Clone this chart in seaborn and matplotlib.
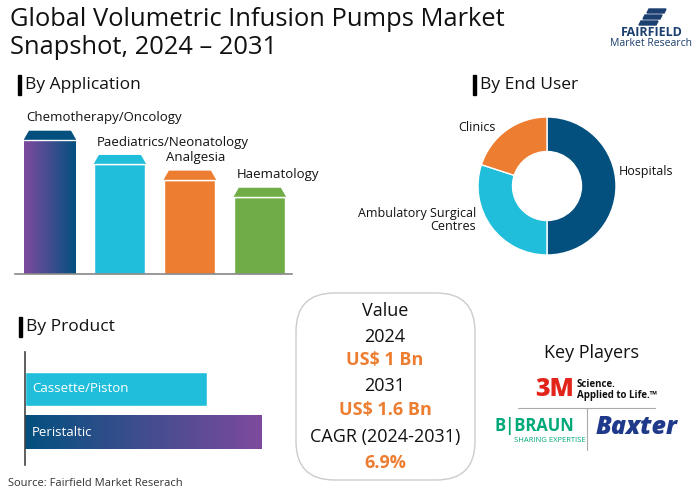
import numpy as np
import pandas as pd
import matplotlib
matplotlib.use('Agg')
import matplotlib.pyplot as plt
from matplotlib.colors import LinearSegmentedColormap
from matplotlib.patches import Polygon, FancyBboxPatch, Rectangle
import seaborn as sns

sns.set_style('white')
plt.rcParams['font.family'] = ['Open Sans', 'DejaVu Sans']

# data
app_labels = ['Chemotherapy/Oncology', 'Paediatrics/Neonatology', 'Analgesia', 'Haematology']
app_values = [100, 83, 72, 60]
user_labels = ['Hospitals', 'Ambulatory Surgical\nCentres', 'Clinics']
user_values = [50, 30, 20]
prod_labels = ['Cassette/Piston', 'Peristaltic']
prod_values = [77, 100]
value_lines = ['Value', '2024', 'US$ 1 Bn', '2031', 'US$ 1.6 Bn', 'CAGR (2024-2031)', '6.9%']

DBLUE = '#03507F'
CYAN = '#20BEDA'
ORANGE = '#ED7D31'
GREEN = '#70AD47'
PURPLE = '#7E4A9E'

W, H = 700, 491
fig = plt.figure(figsize=(7, 4.91), dpi=100)


def px(x0, y0, x1, y1):
    return [x0 / W, 1 - y1 / H, (x1 - x0) / W, (y1 - y0) / H]


def ftxt(x, y, s, **kw):
    fig.text(x / W, 1 - y / H, s, **kw)


def header(x, y, s):
    fig.patches.append(Rectangle((x / W, 1 - (y + 10) / H), 3 / W, 20 / H,
                                 transform=fig.transFigure, color='black'))
    ftxt(x + 7, y, s, fontsize=12.5, va='center', color='#111111')


def gradient_fill(ax, patch, c0, c1):
    cmap = LinearSegmentedColormap.from_list('g', [c0, c1])
    x, y, w, h = patch.get_x(), patch.get_y(), patch.get_width(), patch.get_height()
    grad = np.linspace(0, 1, 256).reshape(1, -1)
    im = ax.imshow(grad, extent=[x, x + w, y, y + h], cmap=cmap, aspect='auto',
                   zorder=patch.get_zorder())
    im.set_clip_path(patch)
    patch.set_facecolor('none')


# title
ftxt(10, 20, 'Global Volumetric Infusion Pumps Market', fontsize=18.4, va='center', color='#111111')
ftxt(10, 47, 'Snapshot, 2024 \u2013 2031', fontsize=18.4, va='center', color='#111111')
# logo
for i, (dx, yy) in enumerate([(4, 9), (0, 15), (-4, 21)]):
    fig.patches.append(Polygon([((645 + dx) / W, 1 - yy / H), ((662 + dx) / W, 1 - yy / H),
                                ((660 + dx) / W, 1 - (yy + 4) / H), ((643 + dx) / W, 1 - (yy + 4) / H)],
                               closed=True, transform=fig.transFigure, color='#1B3F6E'))
ftxt(652, 33, 'FAIRFIELD', fontsize=9, fontweight='bold', ha='center', va='center', color='#1B3F6E')
ftxt(651, 44, 'Market Research', fontsize=7.5, ha='center', va='center', color='#1B3F6E')

# By Application
header(18, 85, 'By Application')
ax1 = fig.add_axes(px(15, 110, 292, 274))
cap = 6
df_app = pd.DataFrame({'seg': app_labels, 'val': [v - cap for v in app_values]})
app_colors = [DBLUE, CYAN, ORANGE, GREEN]
sns.barplot(data=df_app, x='seg', y='val', hue='seg', palette=app_colors, width=0.73,
            legend=False, ax=ax1, saturation=1)
bars = list(ax1.patches)
for p, v, c, lab in zip(bars, app_values, app_colors, app_labels):
    x0, w = p.get_x(), p.get_width()
    top = v - cap
    ax1.add_patch(Polygon([(x0, top), (x0 + w, top), (x0 + w - 0.07, v), (x0 + 0.07, v)],
                          closed=True, color=c, zorder=3))
    ax1.plot([x0, x0 + w], [top, top], color='white', lw=1, zorder=4)
    ax1.text(x0 + 0.03, v + 5, lab, fontsize=9.5, ha='left', va='bottom', color='#111111')
gradient_fill(ax1, bars[0], PURPLE, DBLUE)
ax1.set_xlim(-0.5, 3.46)
ax1.set_ylim(0, 115)
ax1.set_xticks([])
ax1.set_yticks([])
ax1.set_xlabel('')
ax1.set_ylabel('')
for s in ['top', 'right', 'left']:
    ax1.spines[s].set_visible(False)
ax1.spines['bottom'].set_color('#888888')
ax1.spines['bottom'].set_linewidth(1.2)

# By End User
header(473, 85, 'By End User')
ax2 = fig.add_axes(px(478, 117, 616, 255))
ax2.pie(user_values, colors=[DBLUE, CYAN, ORANGE], startangle=90, counterclock=False,
        radius=1, wedgeprops=dict(width=0.5, edgecolor='white', linewidth=1))
ax2.set_xlim(-1, 1)
ax2.set_ylim(-1, 1)
ax2.set_aspect('equal')
ax2.axis('off')
ftxt(619, 172, user_labels[0], fontsize=9, ha='left', va='center', color='#111111')
ftxt(476, 220, user_labels[1], fontsize=9, ha='right', va='center', color='#111111',
     multialignment='right', linespacing=1.1)
ftxt(496, 128, user_labels[2], fontsize=9, ha='right', va='center', color='#111111')

# By Product
header(19, 327, 'By Product')
ax3 = fig.add_axes(px(25, 352, 290, 465))
df_prod = pd.DataFrame({'prod': prod_labels, 'val': prod_values})
sns.barplot(data=df_prod, y='prod', x='val', hue='prod', palette=[CYAN, DBLUE], orient='h',
            width=0.78, legend=False, ax=ax3, saturation=1)
pbars = list(ax3.patches)
gradient_fill(ax3, pbars[1], DBLUE, PURPLE)
for p, lab in zip(pbars, prod_labels):
    ax3.text(3, p.get_y() + p.get_height() / 2, lab, color='white', fontsize=9.5,
             ha='left', va='center', zorder=5)
ax3.set_xlim(0, 112)
ax3.set_ylim(1.75, -0.85)
ax3.set_xticks([])
ax3.set_yticks([])
ax3.set_xlabel('')
ax3.set_ylabel('')
for s in ['top', 'right', 'bottom']:
    ax3.spines[s].set_visible(False)
ax3.spines['left'].set_color('#444444')
ax3.spines['left'].set_linewidth(1.2)

# Value box
fig.patches.append(FancyBboxPatch((296 / W, 1 - 480 / H), 179 / W, 187 / H,
                                  boxstyle='round,pad=0,rounding_size=0.055',
                                  transform=fig.transFigure, facecolor='white',
                                  edgecolor='#CCCCCC', linewidth=1, mutation_aspect=W / H))
ys = [311, 337, 360, 386, 410, 437, 463]
for i, (s, y) in enumerate(zip(value_lines, ys)):
    hi = i in (2, 4, 6)
    ftxt(385, y, s, fontsize=13, ha='center', va='center',
         color=ORANGE if hi else '#111111', fontweight='bold' if hi else 'normal')

# Key players
ftxt(592, 353, 'Key Players', fontsize=13, ha='center', va='center', color='#111111')
ftxt(555, 390, '3M', fontsize=18, fontweight='heavy', color='#E1251B', ha='center', va='center')
ftxt(577, 390, 'Science.\nApplied to Life.\u2122', fontsize=7, fontweight='bold',
     ha='left', va='center', color='#111111', linespacing=1.1)
fig.lines.append(plt.Line2D([518 / W, 655 / W], [1 - 408 / H, 1 - 408 / H],
                            transform=fig.transFigure, color='#AAAAAA', lw=0.8))
fig.lines.append(plt.Line2D([587 / W, 587 / W], [1 - 408 / H, 1 - 450 / H],
                            transform=fig.transFigure, color='#AAAAAA', lw=0.8))
ftxt(534, 426, 'B|BRAUN', fontsize=12, fontweight='bold', color='#00A97A', ha='center', va='center')
ftxt(550, 441, 'SHARING EXPERTISE', fontsize=5.5, color='#00A97A', ha='center', va='center')
ftxt(637, 428, 'Baxter', fontsize=18, fontweight='heavy', style='italic', color='#1F3A8A',
     ha='center', va='center')

ftxt(8, 483, 'Source: Fairfield Market Reserach', fontsize=8, va='center', color='#333333')

fig.savefig('out.png', dpi=100)
